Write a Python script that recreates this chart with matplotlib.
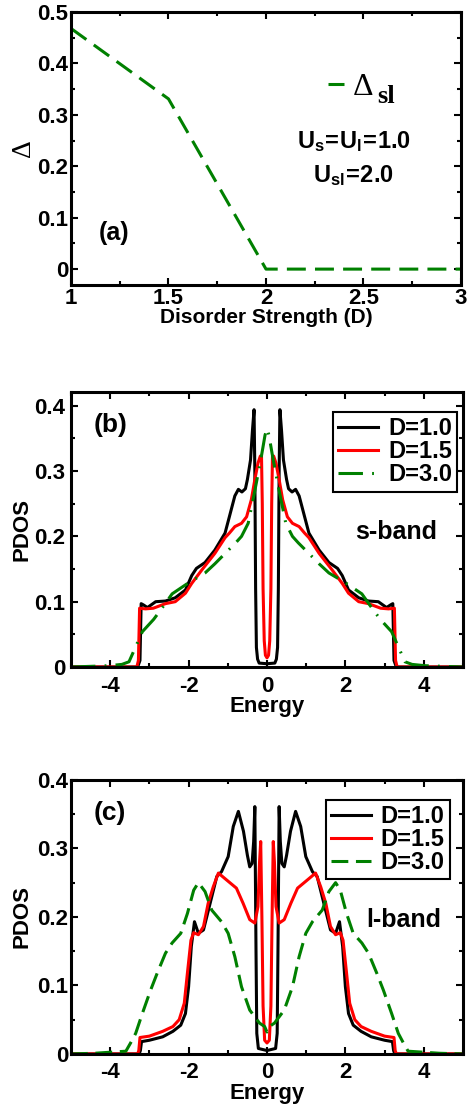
import matplotlib
matplotlib.use("Agg")
import matplotlib.pyplot as plt
from matplotlib.ticker import MultipleLocator, FuncFormatter

plt.rcParams['font.family'] = ['Liberation Sans', 'DejaVu Sans']
plt.rcParams['font.weight'] = 'bold'
plt.rcParams['axes.unicode_minus'] = False
plt.rcParams['mathtext.fontset'] = 'custom'
plt.rcParams['mathtext.bf'] = 'Liberation Sans:bold'
plt.rcParams['mathtext.rm'] = 'Liberation Sans:bold'
plt.rcParams['mathtext.it'] = 'Liberation Sans:bold'

# ---- panel (a): gap vs disorder ----
disorder = [1.0, 1.5, 2.0, 2.5, 3.0]
gap_sl = [0.468, 0.331, 0.0, 0.0, 0.0]

# ---- panel (b): s-band PDOS ----
e_b1 = [-5.0, -3.3, -3.24, -3.21, -3.15, -3.05, -2.84, -2.59, -2.34, -2.08, -1.92, -1.8,
        -1.58, -1.33, -1.07, -0.96, -0.82, -0.73, -0.64, -0.55, -0.5, -0.42, -0.37, -0.33,
        -0.31, -0.29, -0.27, -0.24, -0.2, 0.0,
        0.2, 0.24, 0.27, 0.29, 0.31, 0.33, 0.37, 0.42, 0.5, 0.55, 0.64, 0.73, 0.82, 0.96,
        1.07, 1.33, 1.58, 1.8, 1.92, 2.08, 2.34, 2.59, 2.84, 3.05, 3.15, 3.21, 3.24, 3.3, 5.0]
pdos_b1 = [0.0, 0.0, 0.01, 0.097, 0.095, 0.091, 0.1, 0.101, 0.106, 0.118, 0.14, 0.151,
           0.16, 0.179, 0.205, 0.23, 0.262, 0.272, 0.268, 0.273, 0.287, 0.317, 0.363, 0.394,
           0.3, 0.12, 0.03, 0.012, 0.006, 0.005,
           0.006, 0.012, 0.03, 0.12, 0.3, 0.394, 0.363, 0.317, 0.287, 0.273, 0.268, 0.272, 0.262, 0.23,
           0.205, 0.179, 0.16, 0.151, 0.14, 0.118, 0.106, 0.101, 0.1, 0.091, 0.095, 0.097, 0.01, 0.0, 0.0]

e_b2 = [-5.0, -3.32, -3.28, -3.25, -3.1, -2.9, -2.59, -2.34, -2.08, -1.92, -1.67, -1.33,
        -1.07, -0.96, -0.82, -0.65, -0.52, -0.4, -0.31, -0.23, -0.17, -0.14, -0.12, -0.1,
        -0.07, -0.04, 0.0,
        0.04, 0.07, 0.1, 0.12, 0.14, 0.17, 0.23, 0.31, 0.4, 0.52, 0.65, 0.82, 0.96, 1.07,
        1.33, 1.67, 1.92, 2.08, 2.34, 2.59, 2.9, 3.1, 3.25, 3.28, 3.32, 5.0]
pdos_b2 = [0.0, 0.0, 0.01, 0.09, 0.089, 0.09, 0.097, 0.1, 0.113, 0.128, 0.148, 0.174,
           0.198, 0.205, 0.215, 0.22, 0.23, 0.256, 0.287, 0.312, 0.323, 0.323, 0.25, 0.12,
           0.04, 0.018, 0.014,
           0.018, 0.04, 0.12, 0.25, 0.323, 0.323, 0.312, 0.287, 0.256, 0.23, 0.22, 0.215, 0.205, 0.198,
           0.174, 0.148, 0.128, 0.113, 0.1, 0.097, 0.09, 0.089, 0.09, 0.01, 0.0, 0.0]

e_b3 = [-5.0, -4.5, -4.03, -3.7, -3.52, -3.35, -3.18, -2.89, -2.68, -2.42, -2.0, -1.58,
        -1.33, -1.0, -0.8, -0.65, -0.48, -0.31, -0.15, -0.05, 0.0,
        0.05, 0.15, 0.31, 0.48, 0.65, 0.8, 1.0, 1.33, 1.58, 2.0, 2.42, 2.68, 2.89, 3.18,
        3.35, 3.52, 3.7, 4.03, 4.5, 5.0]
pdos_b3 = [0.0, 0.001, 0.002, 0.004, 0.008, 0.031, 0.054, 0.073, 0.09, 0.112, 0.129, 0.144,
           0.158, 0.178, 0.19, 0.2, 0.22, 0.27, 0.32, 0.355, 0.365,
           0.355, 0.32, 0.27, 0.22, 0.2, 0.19, 0.178, 0.158, 0.144, 0.129, 0.112, 0.09, 0.073, 0.054,
           0.031, 0.008, 0.004, 0.002, 0.001, 0.0]

# ---- panel (c): l-band PDOS ----
e_c1 = [-5.0, -3.26, -3.23, -3.2, -3.0, -2.66, -2.4, -2.2, -2.08, -2.0, -1.93, -1.85,
        -1.75, -1.62, -1.45, -1.28, -1.16, -0.99, -0.86, -0.73, -0.6, -0.5, -0.44, -0.38,
        -0.34, -0.31, -0.28, -0.26, -0.22, 0.0,
        0.22, 0.26, 0.28, 0.31, 0.34, 0.38, 0.44, 0.5, 0.6, 0.73, 0.86, 0.99, 1.16, 1.28,
        1.45, 1.62, 1.75, 1.85, 1.93, 2.0, 2.08, 2.2, 2.4, 2.66, 3.0, 3.2, 3.23, 3.26, 5.0]
pdos_c1 = [0.0, 0.0, 0.005, 0.018, 0.02, 0.025, 0.033, 0.042, 0.059, 0.098, 0.157, 0.193,
           0.176, 0.181, 0.22, 0.259, 0.266, 0.288, 0.332, 0.354, 0.325, 0.29, 0.273, 0.278,
           0.31, 0.361, 0.15, 0.03, 0.008, 0.005,
           0.008, 0.03, 0.15, 0.361, 0.31, 0.278, 0.273, 0.29, 0.325, 0.354, 0.332, 0.288, 0.266, 0.259,
           0.22, 0.181, 0.176, 0.193, 0.157, 0.098, 0.059, 0.042, 0.033, 0.025, 0.02, 0.018, 0.005, 0.0, 0.0]

e_c2 = [-5.0, -3.3, -3.27, -3.24, -3.0, -2.66, -2.4, -2.24, -2.11, -2.03, -1.94, -1.87,
        -1.75, -1.62, -1.5, -1.37, -1.24, -0.99, -0.78, -0.61, -0.44, -0.31, -0.23, -0.19,
        -0.16, -0.13, -0.1, -0.06, 0.0,
        0.06, 0.1, 0.13, 0.16, 0.19, 0.23, 0.31, 0.44, 0.61, 0.78, 0.99, 1.24, 1.37, 1.5,
        1.62, 1.75, 1.87, 1.94, 2.03, 2.11, 2.24, 2.4, 2.66, 3.0, 3.24, 3.27, 3.3, 5.0]
pdos_c2 = [0.0, 0.0, 0.005, 0.024, 0.026, 0.033, 0.04, 0.05, 0.074, 0.118, 0.166, 0.177,
           0.174, 0.186, 0.22, 0.244, 0.264, 0.252, 0.242, 0.22, 0.196, 0.191, 0.215, 0.28,
           0.31, 0.2, 0.07, 0.02, 0.016,
           0.02, 0.07, 0.2, 0.31, 0.28, 0.215, 0.191, 0.196, 0.22, 0.242, 0.252, 0.264, 0.244, 0.22,
           0.186, 0.174, 0.177, 0.166, 0.118, 0.074, 0.05, 0.04, 0.033, 0.026, 0.024, 0.005, 0.0, 0.0]

e_c3 = [-5.0, -4.4, -3.6, -3.48, -3.35, -3.18, -2.97, -2.8, -2.59, -2.42, -2.2, -2.03,
        -1.87, -1.75, -1.58, -1.41, -1.16, -0.99, -0.82, -0.65, -0.44, -0.19, -0.06, 0.0,
        0.06, 0.19, 0.44, 0.65, 0.82, 0.99, 1.16, 1.41, 1.58, 1.75, 1.87, 2.03, 2.2, 2.42,
        2.59, 2.8, 2.97, 3.18, 3.35, 3.48, 3.6, 4.4, 5.0]
pdos_c3 = [0.0, 0.001, 0.004, 0.016, 0.03, 0.059, 0.093, 0.118, 0.147, 0.162, 0.176, 0.205,
           0.239, 0.25, 0.237, 0.21, 0.193, 0.176, 0.142, 0.098, 0.064, 0.045, 0.04, 0.032,
           0.04, 0.045, 0.064, 0.098, 0.142, 0.176, 0.193, 0.21, 0.237, 0.25, 0.239, 0.205, 0.176, 0.162,
           0.147, 0.118, 0.093, 0.059, 0.03, 0.016, 0.004, 0.001, 0.0]

legend_labels = ['D=1.0', 'D=1.5', 'D=3.0']

LW = 2.2
GREEN = '#008000'
TICK_FS = 16


def style_axes(ax, xmajor, xminor, ymajor, yminor, xpad, ypad):
    for s in ax.spines.values():
        s.set_linewidth(2.2)
    ax.xaxis.set_major_locator(MultipleLocator(xmajor))
    ax.xaxis.set_minor_locator(MultipleLocator(xminor))
    ax.yaxis.set_major_locator(MultipleLocator(ymajor))
    ax.yaxis.set_minor_locator(MultipleLocator(yminor))
    fmt = FuncFormatter(lambda v, p: '0' if abs(v) < 1e-9 else f'{v:g}')
    ax.xaxis.set_major_formatter(fmt)
    ax.yaxis.set_major_formatter(fmt)
    ax.tick_params(which='both', direction='in', top=True, right=True, width=1.5)
    ax.tick_params(which='major', length=5)
    ax.tick_params(which='minor', length=3)
    ax.tick_params(axis='x', which='major', pad=xpad, labelsize=TICK_FS)
    ax.tick_params(axis='y', which='major', pad=ypad, labelsize=TICK_FS)


fig = plt.figure(figsize=(4.72, 11.10), dpi=100)

# ---------------- (a) ----------------
ax_a = fig.add_axes([0.1504, 0.7432, 0.8263, 0.2460])
line_a, = ax_a.plot(disorder, gap_sl, color=GREEN, lw=LW, dashes=(6.2, 3.0))
ax_a.set_xlim(1, 3)
ax_a.set_ylim(-0.031, 0.5)
style_axes(ax_a, 0.5, 0.25, 0.1, 0.05, 2, 2)
ax_a.set_xlabel('Disorder Strength (D)', fontsize=15, fontweight='bold', va='top')
ax_a.xaxis.set_label_coords(0.5, -0.085)
ax_a.set_ylabel('Δ', fontsize=20, family='Liberation Serif', fontweight='normal')
ax_a.yaxis.set_label_coords(-0.09, 0.5)
ax_a.legend([line_a], ['Δ'], prop={'family': 'Liberation Serif', 'size': 23, 'weight': 'normal'},
            handlelength=0.5, handletextpad=0.25, frameon=False, loc='center left',
            bbox_to_anchor=(0.66, 0.725), borderpad=0, borderaxespad=0)
ax_a.text(0.785, 0.667, 'sl', transform=ax_a.transAxes, family='Liberation Serif',
          fontweight='bold', fontsize=19, va='baseline', ha='left')
ax_a.text(0.725, 0.525, r'$\mathbf{U_s\!=\!U_l\!=\!1.0}$', transform=ax_a.transAxes,
          fontsize=17, ha='center', va='center')
ax_a.text(0.725, 0.40, r'$\mathbf{U_{sl}\!=\!2.0}$', transform=ax_a.transAxes,
          fontsize=17, ha='center', va='center')
ax_a.text(0.11, 0.19, '(a)', transform=ax_a.transAxes, fontsize=18, ha='center', va='center')


def pdos_panel(ax, curves, dash3, tag, band, leg_anchor, band_xy):
    (e1, p1), (e2, p2), (e3, p3) = curves
    h1, = ax.plot(e1, p1, color='black', lw=LW)
    h2, = ax.plot(e2, p2, color='red', lw=LW)
    h3, = ax.plot(e3, p3, color=GREEN, lw=LW, dashes=dash3)
    ax.set_xlim(-5, 5)
    ax.set_xlabel('Energy', fontsize=16, fontweight='bold', va='top')
    ax.set_ylabel('PDOS', fontsize=16, fontweight='bold')
    ax.yaxis.set_label_coords(-0.097, 0.5)
    leg = ax.legend([h1, h2, h3], legend_labels, loc='upper right', bbox_to_anchor=leg_anchor,
                    borderaxespad=0, fancybox=False, framealpha=1, edgecolor='black',
                    prop={'weight': 'bold', 'size': 17}, handlelength=1.7,
                    handletextpad=0.4, labelspacing=0.0, borderpad=0.22)
    leg.get_frame().set_linewidth(1.5)
    ax.text(0.10, 0.88, tag, transform=ax.transAxes, fontsize=19, ha='center', va='center')
    ax.text(band_xy[0], band_xy[1], band, transform=ax.transAxes, fontsize=18,
            ha='center', va='center')


# ---------------- (b) ----------------
ax_b = fig.add_axes([0.1504, 0.3991, 0.8305, 0.2477])
pdos_panel(ax_b, [(e_b1, pdos_b1), (e_b2, pdos_b2), (e_b3, pdos_b3)], (8, 3, 0.6, 3),
           '(b)', 's-band', (0.985, 0.927), (0.83, 0.49))
ax_b.set_ylim(0, 0.421)
style_axes(ax_b, 2, 1, 0.1, 0.05, 6.5, 4)
ax_b.xaxis.set_label_coords(0.5, -0.105)

# ---------------- (c) ----------------
ax_c = fig.add_axes([0.1504, 0.0505, 0.8305, 0.2469])
pdos_panel(ax_c, [(e_c1, pdos_c1), (e_c2, pdos_c2), (e_c3, pdos_c3)], (5.5, 2.5),
           '(c)', 'l-band', (0.967, 0.927), (0.85, 0.49))
ax_c.set_ylim(0, 0.4)
style_axes(ax_c, 2, 1, 0.1, 0.05, 6, 2)
ax_c.xaxis.set_label_coords(0.5, -0.106)

fig.savefig('out.png', dpi=100)
